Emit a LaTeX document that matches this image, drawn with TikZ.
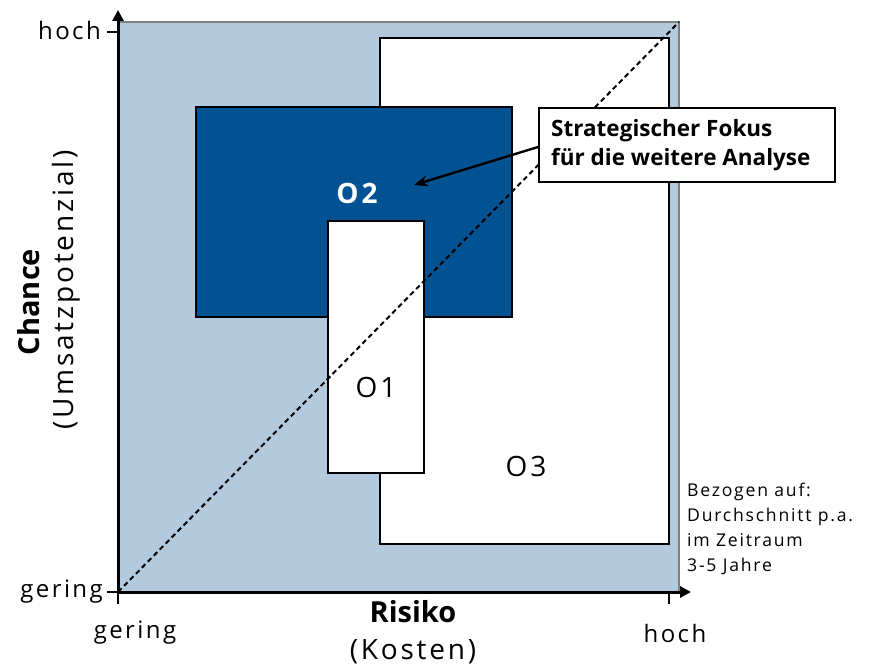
\documentclass[tikz,border=0pt]{standalone}
\usepackage{fontspec}
\setmainfont{Open Sans}
\newfontfamily\spaced[LetterSpace=10]{Open Sans}
\newfontfamily\spacedbold[LetterSpace=10]{Open Sans Bold}
\usetikzlibrary{arrows.meta}
\definecolor{lightfill}{RGB}{179,201,222}
\definecolor{darkfill}{RGB}{0,82,147}
\tikzset{
  boxline/.style={draw=black, line width=2.4pt, inner sep=0pt, outer sep=0pt, anchor=north west},
  axisline/.style={line width=3pt, -{Triangle[length=11pt,width=11pt]}},
  ticks/.style={line width=2.4pt},
  lbl/.style={font=\spaced\fontsize{24}{28}\selectfont, inner sep=0pt},
  olbl/.style={font=\spaced\fontsize{28}{30}\selectfont, inner sep=0pt},
  note/.style={font=\spaced\fontsize{17.6}{24.8}\selectfont, align=left, inner sep=0pt, anchor=north west},
}
\begin{document}
\begin{tikzpicture}[x=1pt,y=-1pt]
\useasboundingbox (0,0) rectangle (888,669);
% background square
\fill[lightfill] (119,22) rectangle (679,592);
\draw[gray, line width=1.8pt] (119,22) -- (679,22) -- (679,592);
% boxes
\node[boxline, fill=white, minimum width=289pt, minimum height=506pt] (o3) at (380,38) {};
\node[boxline, fill=darkfill, minimum width=316pt, minimum height=210pt] (o2) at (196,107) {};
\node[boxline, fill=white, minimum width=96pt, minimum height=252pt] (o1) at (328,221) {};
% labels in boxes
\node[olbl, text=white, font=\spacedbold\fontsize{28}{30}\selectfont] (t2) at (357,193) {O2};
\node[olbl] (t1) at (376,387) {O1};
\node[olbl] (t3) at (526,466) {O3};
% axes
\coordinate (origin) at (118,592);
\coordinate (ytip) at (118,10);
\coordinate (xtip) at (691,592);
\draw[line width=2pt, dash pattern=on 5pt off 3.5pt] (origin) -- (679,22);
\draw[axisline] (origin) -- (ytip);
\draw[axisline] (origin) -- (xtip);
\coordinate (yt1) at (107,32);
\coordinate (yt2) at (118,32);
\coordinate (yb1) at (107,592);
\coordinate (xb1) at (118,604);
\coordinate (xh1) at (669,592);
\coordinate (xh2) at (669,604);
\draw[ticks] (yt1) -- (yt2);
\draw[ticks] (yb1) -- (origin);
\draw[ticks] (origin) -- (xb1);
\draw[ticks] (xh1) -- (xh2);
% axis labels
\node[lbl, anchor=east] (yhoch) at (101,31) {hoch};
\node[lbl, anchor=east] (ygering) at (103,592) {gering};
\node[lbl] (xgering) at (135,633) {gering};
\node[lbl] (xhoch) at (675,633) {hoch};
\node[font=\bfseries\fontsize{29}{30}\selectfont, inner sep=0pt] (risiko) at (413,612) {Risiko};
\node[lbl, font=\spaced\fontsize{28}{30}\selectfont] (kosten) at (413,652) {(Kosten)};
\node[font=\bfseries\fontsize{29}{30}\selectfont, inner sep=0pt, rotate=90] (chance) at (29,302) {Chance};
\node[lbl, font=\spaced\fontsize{28}{30}\selectfont, rotate=90] (umsatz) at (66,290) {(Umsatzpotenzial)};
% note
\node[note] (bez) at (687,483) {Bezogen auf:\\Durchschnitt p.a.\\im Zeitraum\\3-5 Jahre};
% callout
\node[draw=black, line width=2.4pt, fill=white, anchor=north west, minimum width=296pt, minimum height=74pt, inner sep=0pt] (call) at (538,107) {};
\node[font=\bfseries\fontsize{22.5}{29}\selectfont, align=left, anchor=west, inner sep=0pt] (calltext) at (551,145) {Strategischer Fokus\\für die weitere Analyse};
\coordinate (arrtip) at (414,185);
\draw[line width=2.4pt, -{Stealth[length=14pt,width=11pt]}] (call.west |- 0,147) -- (arrtip);
\end{tikzpicture}
\end{document}
